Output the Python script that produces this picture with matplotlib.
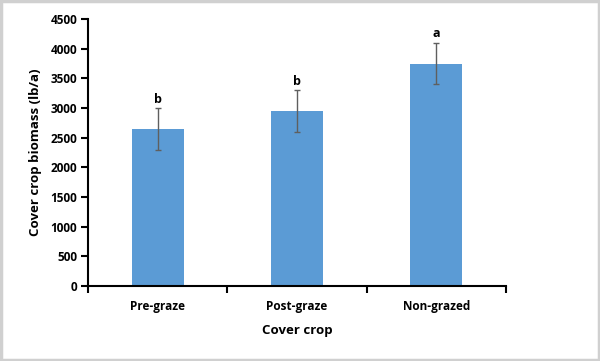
import matplotlib.pyplot as plt
from matplotlib.patches import Rectangle

plt.rcParams['font.family'] = ['Open Sans', 'DejaVu Sans']

# data
categories = ['Pre-graze', 'Post-graze', 'Non-grazed']
biomass = [2650, 2950, 3750]
errors = [350, 355, 350]
letters = ['b', 'b', 'a']

fig = plt.figure(figsize=(6.0, 3.61), dpi=100)
ax = fig.add_axes([0.147, 0.208, 0.696, 0.739])

x = range(len(categories))
ax.bar(x, biomass, width=0.37, color='#5B9BD5', zorder=2)
ax.errorbar(x, biomass, yerr=errors, fmt='none', ecolor='#5f5f5f',
            elinewidth=1.0, capsize=2.5, capthick=1.0, zorder=3)
for i, (v, e, lab) in enumerate(zip(biomass, errors, letters)):
    ax.text(i, v + e + 40, lab, ha='center', va='bottom',
            fontsize=9, fontweight='bold', color='black')

ax.set_xlim(-0.5, 2.5)
ax.set_ylim(0, 4500)
ax.set_yticks(range(0, 4501, 500))
ax.set_xticks([-0.5, 0.5, 1.5, 2.5])
ax.set_xticklabels([])
ax.set_xticks(list(x), minor=True)
ax.set_xticklabels(categories, minor=True)
ax.tick_params(axis='x', which='minor', length=0, pad=10)
ax.tick_params(axis='x', which='major', length=5, width=1.5, direction='out')
ax.tick_params(axis='y', length=5, width=1.5, direction='out', pad=3)
for t in ax.get_xticklabels(minor=True) + ax.get_yticklabels():
    t.set_fontsize(8.5)
    t.set_fontweight('bold')

ax.spines['top'].set_visible(False)
ax.spines['right'].set_visible(False)
ax.spines['left'].set_linewidth(1.5)
ax.spines['bottom'].set_linewidth(1.5)

ax.set_ylabel('Cover crop biomass (lb/a)', fontsize=9.5, fontweight='bold', labelpad=6)
ax.set_xlabel('Cover crop', fontsize=9.5, fontweight='bold', labelpad=8)

# light grey frame round the picture
fig.patches.append(Rectangle((0.002, 0.003), 0.996, 0.994, transform=fig.transFigure,
                             fill=False, edgecolor='#d0d0d0', linewidth=2.5))

fig.savefig('out.png', dpi=100)
